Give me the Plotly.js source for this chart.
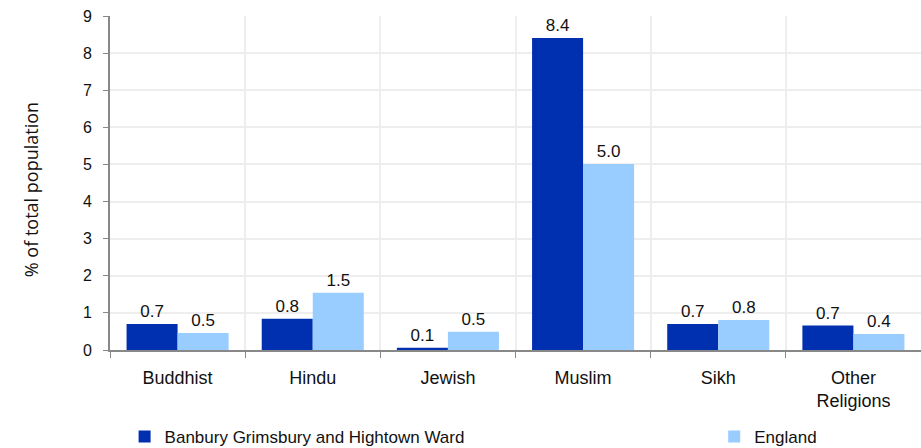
<!DOCTYPE html>
<html>
<head>
<meta charset="utf-8">
<script src="https://cdn.plot.ly/plotly-3.0.1.min.js"></script>
<style>html,body{margin:0;padding:0;background:#fff;}#chart{width:921px;height:448px;}</style>
</head>
<body>
<div id="chart"></div>
<script>
const categories = ["Buddhist", "Hindu", "Jewish", "Muslim", "Sikh", "Other<br>Religions"];
const seriesNames = ["Banbury Grimsbury and Hightown Ward", "England"];
const wardValues = [0.70, 0.84, 0.06, 8.41, 0.70, 0.66];
const englandValues = [0.46, 1.54, 0.49, 5.01, 0.81, 0.43];
const yTickValues = [0, 1, 2, 3, 4, 5, 6, 7, 8, 9];
const yTitle = "% of total population";

const fam = "Liberation Sans, Arial, sans-serif";
const tickFont = {family: fam, size: 16, color: "#111"};
const catFont = {family: fam, size: 18, color: "#111"};
const labelFont = {family: fam, size: 17, color: "#111"};
const legendFont = {family: fam, size: 17, color: "#111"};
const titleFont = {family: "Open Sans, sans-serif", size: 18, color: "#111"};

const traces = [
  {type: "bar", name: seriesNames[0], x: categories, y: wardValues,
   marker: {color: "#0030b0"}, texttemplate: "%{y:.1f}", textposition: "outside",
   textfont: labelFont, cliponaxis: false, hoverinfo: "none", legend: "legend"},
  {type: "bar", name: seriesNames[1], x: categories, y: englandValues,
   marker: {color: "#99ccff"}, texttemplate: "%{y:.1f}", textposition: "outside",
   textfont: labelFont, cliponaxis: false, hoverinfo: "none", legend: "legend2"}
];

const layout = {
  width: 921, height: 448,
  margin: {l: 110, r: 0, t: 16, b: 98, autoexpand: false},
  paper_bgcolor: "#fff", plot_bgcolor: "#fff",
  font: tickFont,
  barmode: "group", bargap: 0.245, bargroupgap: 0,
  showlegend: true,
  legend: {orientation: "h", x: 0.018, xanchor: "left", y: -0.26, yanchor: "middle",
           font: legendFont, itemwidth: 30, bgcolor: "rgba(0,0,0,0)"},
  legend2: {orientation: "h", x: 0.745, xanchor: "left", y: -0.26, yanchor: "middle",
           font: legendFont, itemwidth: 30, bgcolor: "rgba(0,0,0,0)"},
  xaxis: {type: "category", tickson: "boundaries", ticks: "outside", ticklen: 6,
          tickcolor: "#888", showline: true, linecolor: "#888", linewidth: 2,
          showgrid: true, gridcolor: "#eeeeee", gridwidth: 2, tickfont: catFont,
          ticklabelstandoff: 10, automargin: false},
  yaxis: {range: [0, 9], tickvals: yTickValues, ticks: "outside", ticklen: 5,
          tickcolor: "#888", showline: true, linecolor: "#888", linewidth: 2,
          showgrid: true, gridcolor: "#eeeeee", gridwidth: 2, zeroline: false,
          tickfont: tickFont, automargin: false, ticklabelstandoff: 8},
  annotations: [{text: yTitle, xref: "paper", yref: "paper", x: -0.098, y: 0.48,
                 xanchor: "center", yanchor: "middle", textangle: -90, showarrow: false,
                 font: titleFont}]
};

Plotly.newPlot("chart", traces, layout, {staticPlot: true});
</script>
</body>
</html>
